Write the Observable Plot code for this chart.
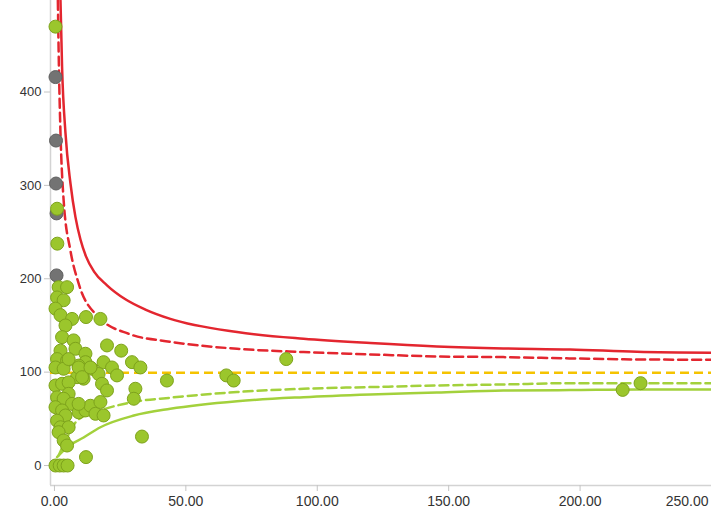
<!DOCTYPE html>
<html>
<head>
<meta charset="utf-8">
<script src="https://cdn.jsdelivr.net/npm/d3@7"></script>
<script src="https://cdn.jsdelivr.net/npm/@observablehq/plot@0.6"></script>
<style>
  html, body { margin: 0; padding: 0; background: #fff; }
  #chart { width: 711px; height: 514px; overflow: hidden; }
</style>
</head>
<body>
<div id="chart"></div>
<script>
// ---- Data ----
const pointX = [0.4, 1.0, 1.1, 1.6, 4.8, 1.0, 3.5, 0.4, 2.3, 6.7, 4.2, 12, 17.5, 2.9, 7.3, 8, 2.3, 20, 25.4, 1, 4.8, 11.8, 11.8, 9.2, 18.7, 21.9, 29.5, 32.7, 0.4, 3.5, 14.3, 23.8, 8.6, 11.1, 16.8, 42.8, 0.4, 2.9, 5.4, 5.4, 18.1, 20, 30.8, 30.2, 1, 3.5, 6.7, 0.4, 2.9, 9.2, 11.8, 13.7, 15.6, 17.5, 18.7, 4.2, 1, 2.3, 5.4, 1.6, 3.5, 4.8, 33.3, 12, 0.4, 2.0, 3.5, 5.0, 65.4, 68.2, 88.2, 216.2, 223, 5.4, 9.2, 13.7, 10.5, 9.2];
const pointY = [470, 275, 237.6, 191, 191, 180, 177, 168, 161, 157, 150, 159, 157, 137.5, 134, 125, 123, 128.6, 123, 114, 112.5, 119.7, 110.7, 107, 110.7, 105, 110.7, 105, 105, 103.6, 103.6, 96.5, 94.6, 93, 98, 91, 85.7, 87.5, 89, 76.8, 87.5, 80.4, 82.2, 71.5, 73, 71.5, 66, 62.5, 59, 57, 59, 64, 55.4, 68, 53.6, 53.6, 48, 41, 41, 35.7, 26.8, 21.4, 31, 9, 0, 0, 0, 0, 96.5, 91, 114, 81, 88.2, 114, 105, 105, 94.6, 66];
const grayX = [0.4, 0.6, 0.6, 0.8, 0.8];
const grayY = [416, 348, 302, 270, 203.6];

const meanValue = 99.3;

const upper998X = [2.3, 2.9, 4.2, 6.1, 8, 9.9, 12, 15, 20, 27, 34.6, 44.1, 69.5, 94.8, 120.2, 145.5, 170.8, 196.2, 221.6, 250];
const upper998Y = [498, 427, 356, 302, 266, 242, 224, 208, 193, 178, 167, 157, 142.9, 135.7, 131.1, 127.5, 125.4, 124.3, 121.8, 120.8];
const upper95X = [1.3, 1.7, 2.3, 3.5, 6.1, 9.2, 16.8, 28.3, 44.1, 69.5, 94.8, 120.2, 145.5, 170.8, 196.2, 221.6, 250];
const upper95Y = [498, 427, 356, 284, 230, 195, 159, 141, 132.5, 125, 121.5, 119, 116.8, 116.1, 114.7, 113.6, 113.3];
const lower95X = [1.6, 4.8, 8.6, 17.5, 30, 44.1, 69.5, 94.8, 120.2, 145.5, 170.8, 196.2, 221.6, 250];
const lower95Y = [10.7, 30, 48, 59, 68, 72.6, 78.7, 82.2, 84, 85.7, 86.8, 88.2, 88.2, 88.2];
const lower998X = [1.0, 4.8, 11.1, 17.5, 30.2, 44.1, 69.5, 94.8, 120.2, 145.5, 170.8, 196.2, 221.6, 250];
const lower998Y = [9, 19.6, 30, 41, 53.5, 60.8, 68.9, 73.2, 76.1, 78.2, 80.4, 80.8, 81.5, 81.5];

const yTicks = [0, 100, 200, 300, 400];
const xTicks = [0, 50, 100, 150, 200];
const xLastTick = [250];

// ---- Build tables ----
const zip = (xs, ys) => xs.map((x, i) => ({x, y: ys[i]}));
const greenPts = zip(pointX, pointY);
const grayPts = zip(grayX, grayY);
const u998 = zip(upper998X, upper998Y);
const u95 = zip(upper95X, upper95Y);
const l95 = zip(lower95X, lower95Y);
const l998 = zip(lower998X, lower998Y);

const xMin = -1.5, xMax = 250, yMin = -21.4, yMax = 498;
const fmt = d => d.toFixed(2);

const chart = Plot.plot({
  width: 711,
  height: 514,
  marginLeft: 50,
  marginRight: 0,
  marginTop: 0,
  marginBottom: 29,
  x: {domain: [xMin, xMax], label: null},
  y: {domain: [yMin, yMax], label: null},
  style: {fontFamily: "'Liberation Sans', Arial, sans-serif", background: "#fff", color: "#333"},
  marks: [
    Plot.ruleX([xMin], {stroke: "#d3d3d3", strokeWidth: 1.5}),
    Plot.ruleY([yMin], {stroke: "#d3d3d3", strokeWidth: 1.5}),
    Plot.axisY({ticks: yTicks, tickSize: 6, tickPadding: 3, stroke: "#c4c4c4", fill: "#333", fontSize: 13, label: null}),
    Plot.axisX({ticks: xTicks, tickFormat: fmt, tickSize: 6, tickPadding: 5, stroke: "#c4c4c4", fill: "#333", fontSize: 14, label: null}),
    Plot.axisX({ticks: xLastTick, tickFormat: fmt, tickSize: 0, tickPadding: 11, textAnchor: "end", dx: -3, fill: "#333", fontSize: 14, label: null}),
    Plot.ruleY([meanValue], {x1: xMin, x2: xMax, stroke: "#f5c300", strokeWidth: 2.5, strokeDasharray: "9,5"}),
    Plot.line(l998, {x: "x", y: "y", curve: "monotone-x", stroke: "#a3d13c", strokeWidth: 2.5, clip: true}),
    Plot.line(l95, {x: "x", y: "y", curve: "monotone-x", stroke: "#a3d13c", strokeWidth: 2.5, strokeDasharray: "9,5", clip: true}),
    Plot.line(u998, {x: "x", y: "y", curve: "monotone-x", stroke: "#e3262f", strokeWidth: 2.5, clip: true}),
    Plot.line(u95, {x: "x", y: "y", curve: "monotone-x", stroke: "#e3262f", strokeWidth: 2.5, strokeDasharray: "9,5", clip: true}),
    Plot.dot(grayPts, {x: "x", y: "y", r: 6.5, fill: "#737373", stroke: "#606060", strokeWidth: 1}),
    Plot.dot(greenPts, {x: "x", y: "y", r: 6.5, fill: "#9bc62c", stroke: "#7ea31c", strokeWidth: 1})
  ]
});
document.getElementById("chart").appendChild(chart);
</script>
</body>
</html>
